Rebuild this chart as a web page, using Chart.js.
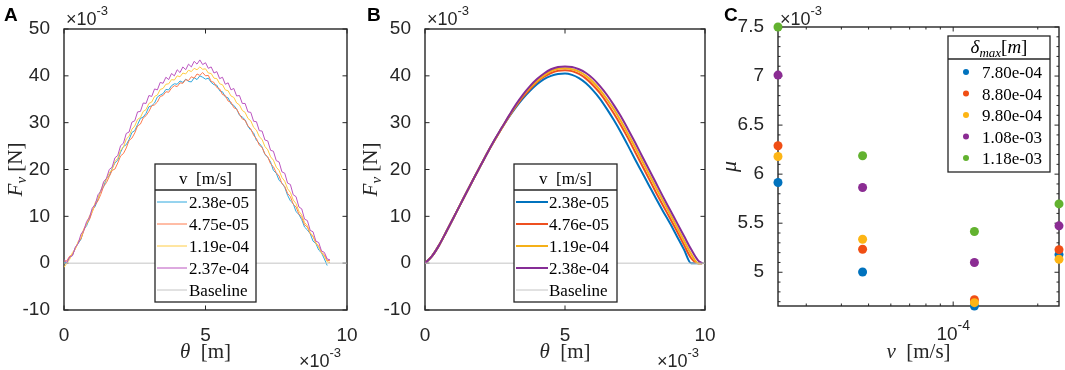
<!DOCTYPE html>
<html>
<head>
<meta charset="utf-8"/>
<title>Fv against theta, and mu against v</title>
<script src="https://cdn.jsdelivr.net/npm/chart.js@4.4.1/dist/chart.umd.min.js"></script>
<style>
  body { margin: 0; background: #fff; overflow: hidden; }
  #wrap { position: relative; width: 1065px; height: 370px; overflow: hidden; }
  canvas { position: absolute; top: 0; }
</style>
</head>
<body>
<div id="wrap">
  <canvas id="chartA" width="380" height="370" style="left:0px"></canvas>
  <canvas id="chartB" width="380" height="370" style="left:355px"></canvas>
  <canvas id="chartC" width="380" height="370" style="left:710px"></canvas>
</div>
<script>
// ---- panel A: measured force, theta and F both in units of 1e-3 ----
const thetaA = [0,0.1,0.2,0.3,0.4,0.5,0.6,0.7,0.8,0.9,
  1,1.1,1.2,1.3,1.4,1.5,1.6,1.7,1.8,1.9,
  2,2.1,2.2,2.3,2.4,2.5,2.6,2.7,2.8,2.9,
  3,3.1,3.2,3.3,3.4,3.5,3.6,3.7,3.8,3.9,
  4,4.1,4.2,4.3,4.4,4.5,4.6,4.7,4.8,4.9,
  5,5.1,5.2,5.3,5.4,5.5,5.6,5.7,5.8,5.9,
  6,6.1,6.2,6.3,6.4,6.5,6.6,6.7,6.8,6.9,
  7,7.1,7.2,7.3,7.4,7.5,7.6,7.7,7.8,7.9,
  8,8.1,8.2,8.3,8.4,8.5,8.6,8.7,8.8,8.9,
  9,9.1,9.2,9.3,9.4];
const fA1 = [0.2,0.1,1.3,1.7,3.3,4.2,5.1,7.2,8.0,9.5,
  11.4,12.1,13.7,15.6,16.3,18.1,18.6,20.2,21.4,22.0,
  23.7,24.9,25.3,26.4,27.9,28.3,29.6,30.9,31.2,32.0,
  33.4,33.6,34.2,35.5,35.9,36.2,37.1,37.0,37.9,38.3,
  38.2,38.9,38.6,39.3,38.8,38.7,39.6,39.2,40.0,39.7,
  39.3,39.5,38.6,38.1,38.0,36.8,36.6,35.5,35.3,34.0,
  33.7,32.9,31.6,31.2,30.6,29.2,28.4,27.8,26.2,25.6,
  24.8,23.2,22.6,21.6,19.8,19.2,17.7,17.1,16.2,14.5,
  13.3,12.7,11.0,10.4,9.3,7.7,7.1,6.3,4.7,4.2,
  2.8,2.2,0.9,-0.5,null];
const fA2 = [0.4,0.5,1.5,1.8,3.1,4.4,5.2,6.9,8.5,9.3,
  11.0,12.5,13.3,14.7,16.4,17.2,18.5,19.8,20.1,21.4,
  22.9,23.4,24.6,26.2,26.7,27.8,29.3,29.7,31.0,31.5,
  32.4,33.6,33.8,34.4,35.6,35.8,36.6,36.5,37.4,37.9,
  37.7,38.5,38.4,39.2,39.0,39.8,39.5,40.4,40.1,40.7,
  40.0,40.1,38.8,38.6,37.5,37.2,36.0,35.8,34.6,34.4,
  33.2,32.9,31.8,30.8,30.5,29.3,28.7,27.3,26.6,25.2,
  24.7,23.3,22.7,21.2,20.6,19.3,18.6,17.0,16.4,14.9,
  14.2,12.6,12.0,10.5,9.8,8.2,7.7,6.3,5.7,4.3,
  3.6,2.3,1.8,0.6,0.5];
const fA3 = [-0.9,0.0,0.8,2.3,3.0,4.6,5.5,7.4,8.3,10.1,
  11.0,12.9,13.8,15.5,17.1,17.8,19.3,20.0,21.7,22.4,
  24.1,24.8,26.5,27.1,28.6,29.3,30.7,31.1,32.4,32.8,
  34.1,34.4,35.6,35.9,37.1,37.3,38.2,38.3,39.2,39.1,
  40.0,39.8,40.6,40.4,41.2,40.9,41.6,41.3,41.9,41.4,
  41.5,40.6,40.5,39.5,39.4,38.3,38.1,37.0,36.8,35.7,
  35.4,34.2,33.8,32.6,32.2,30.9,30.4,29.0,28.4,27.0,
  26.4,24.9,24.2,22.7,22.0,20.5,19.8,18.3,17.5,15.9,
  15.1,13.5,12.7,11.1,10.3,8.7,8.0,6.5,5.8,4.3,
  3.5,2.2,1.5,0.3,0.1];
const fA4 = [0.8,0.1,1.3,1.6,3.4,4.2,6.2,7.0,8.9,9.8,
  11.8,12.5,14.6,15.3,17.4,18.1,20.0,20.5,22.5,23.0,
  25.1,25.6,27.7,28.0,30.1,30.4,32.3,32.4,34.2,34.1,
  35.8,35.6,37.2,37.0,38.6,38.4,39.7,39.2,40.5,40.0,
  41.3,40.7,41.9,41.3,42.5,41.9,43.1,42.5,43.4,42.4,
  42.8,41.6,41.9,40.6,40.9,39.4,39.7,38.2,38.5,37.0,
  37.3,35.7,35.8,34.1,34.1,32.3,32.2,30.3,30.2,28.3,
  28.2,26.3,26.1,24.1,23.9,21.9,21.6,19.5,19.2,17.1,
  16.8,14.6,14.2,12.0,11.6,9.4,9.1,7.0,6.7,4.7,
  4.4,2.6,2.3,0.9,0.7];
const labelsA = ['2.38e-05', '4.75e-05', '1.19e-04', '2.37e-04'];

// ---- panel B: model force ----
const thetaB = [0,0.25,0.5,0.75,1,1.25,1.5,1.75,2,2.25,
  2.5,2.75,3,3.25,3.5,3.75,4,4.25,4.5,4.75,
  5,5.25,5.5,5.75,6,6.25,6.5,6.75,7,7.25,
  7.5,7.75,8,8.25,8.5,8.75,9,9.25,9.5,9.75,9.9];
const fB1 = [0,1.5,3.8,6.6,9.5,12.4,15.3,18.2,21.0,23.8,
  26.4,28.9,31.2,33.3,35.2,36.8,38.2,39.3,40.0,40.4,
  40.5,40.2,39.5,38.4,36.9,35.1,32.9,30.5,27.9,25.1,
  22.2,19.4,16.6,13.8,11.1,8.5,5.7,2.9,0,0,0];
const fB2 = [0,1.5,3.8,6.6,9.5,12.4,15.3,18.2,21.0,23.8,
  26.4,28.9,31.3,33.5,35.5,37.2,38.7,39.8,40.6,41.1,
  41.2,41.0,40.4,39.4,38.0,36.3,34.2,31.9,29.4,26.7,
  23.8,20.9,18.0,15.1,12.3,9.6,6.8,3.9,1.1,0,0];
const fB3 = [0,1.5,3.8,6.6,9.5,12.4,15.3,18.2,21.0,23.8,
  26.4,28.9,31.4,33.7,35.8,37.5,38.9,40.1,41.0,41.5,
  41.6,41.4,40.9,40.0,38.7,37.0,35.0,32.8,30.3,27.6,
  24.8,21.9,19.0,16.1,13.3,10.5,7.7,4.8,2.0,0,0];
const fB4 = [0,1.5,3.8,6.6,9.5,12.4,15.3,18.2,21.0,23.8,
  26.5,29.0,31.5,33.9,36.0,37.8,39.3,40.5,41.4,41.9,
  42.0,41.9,41.4,40.6,39.4,37.8,35.9,33.7,31.3,28.6,
  25.8,22.9,20.0,17.1,14.2,11.4,8.6,5.8,3.0,0.6,0];
const labelsB = ['2.38e-05', '4.76e-05', '1.19e-04', '2.38e-04'];

const thetaTicks = [0, 5, 10];
const forceTicks = [-10, 0, 10, 20, 30, 40, 50];

// ---- panel C: friction coefficient (x1e-3) against speed ----
const speedC = [2.38e-5, 4.76e-5, 1.19e-4, 2.38e-4];
const mu780 = [5.915, 5.003, 4.656, 5.18];
const mu880 = [6.29, 5.235, 4.72, 5.23];
const mu980 = [6.18, 5.337, 4.69, 5.133];
const mu1080 = [7.01, 5.864, 5.10, 5.473];
const mu1180 = [7.5, 6.187, 5.415, 5.697];
const deltaLabels = ['7.80e-04', '8.80e-04', '9.80e-04', '1.08e-03', '1.18e-03'];
const muTicks = [5, 5.5, 6, 6.5, 7, 7.5];
const muMinor = [4.7,4.8,4.9,5.1,5.2,5.3,5.4,5.6,5.7,5.8,5.9,6.1,6.2,6.3,6.4,
  6.6,6.7,6.8,6.9,7.1,7.2,7.3,7.4];
const speedMinor = [3e-5,4e-5,5e-5,6e-5,7e-5,8e-5,9e-5,2e-4];

const INK = '#262626';
const SANS = '"Liberation Sans", Arial, sans-serif';
const SERIF = '"Liberation Serif", "Times New Roman", serif';
const LEG_FONT = '17px ' + SERIF;

// draws text made of several styled pieces: [text, font, dy]
function rich(ctx, parts, x, y, align) {
  let w = 0;
  for (const p of parts) { ctx.font = p[1]; w += ctx.measureText(p[0]).width; }
  let cx = align === 'center' ? x - w / 2 : align === 'right' ? x - w : x;
  for (const p of parts) {
    ctx.font = p[1];
    ctx.fillText(p[0], cx, y + (p[2] || 0));
    cx += ctx.measureText(p[0]).width;
  }
}
const exp3 = [['\u00d710', '18px ' + SANS], ['-3', '13px ' + SANS, -10]];

function makeDecor(cfg) {
  return {
    id: 'decor',
    beforeDatasetsDraw(chart) {
      const { ctx, chartArea: a } = chart;
      const { x, y } = chart.scales;
      ctx.save();
      ctx.strokeStyle = INK;
      ctx.lineWidth = 1;
      ctx.beginPath();
      const xt = (vals, len) => vals.forEach(v => {
        const p = x.getPixelForValue(v);
        ctx.moveTo(p, a.bottom); ctx.lineTo(p, a.bottom - len);
        ctx.moveTo(p, a.top); ctx.lineTo(p, a.top + len);
      });
      const yt = (vals, len) => vals.forEach(v => {
        const p = y.getPixelForValue(v);
        ctx.moveTo(a.left, p); ctx.lineTo(a.left + len, p);
        ctx.moveTo(a.right, p); ctx.lineTo(a.right - len, p);
      });
      xt(x.ticks.map(t => t.value), 4.5);
      yt(y.ticks.map(t => t.value), 4.5);
      if (cfg.minorX) xt(cfg.minorX, 2.5);
      if (cfg.minorY) yt(cfg.minorY, 2.5);
      ctx.stroke();
      ctx.lineWidth = 1.4;
      ctx.strokeRect(a.left, a.top, a.right - a.left, a.bottom - a.top);
      ctx.restore();
    },
    afterDraw(chart) {
      const { ctx, chartArea: a } = chart;
      ctx.save();
      ctx.textBaseline = 'alphabetic';
      ctx.textAlign = 'left';
      // panel letter
      ctx.fillStyle = '#000';
      ctx.font = 'bold 19px ' + SANS;
      ctx.fillText(cfg.letter, cfg.letterX, 21);
      // exponent labels
      ctx.fillStyle = INK;
      rich(ctx, exp3, a.left + 2, 25, 'left');
      if (cfg.expBottom) rich(ctx, exp3, a.right - 6, 367, 'right');
      if (cfg.logLabel) {
        const p = chart.scales.x.getPixelForValue(1e-4);
        rich(ctx, [['10', '19px ' + SANS], ['-4', '14px ' + SANS, -10]], p, 340, 'center');
      }
      // axis titles
      rich(ctx, cfg.xTitle, (a.left + a.right) / 2, 358, 'center');
      ctx.save();
      ctx.translate(cfg.yTitleX, (a.top + a.bottom) / 2);
      ctx.rotate(-Math.PI / 2);
      rich(ctx, cfg.yTitle, 0, 0, 'center');
      ctx.restore();
      // legend box with a header row
      const L = cfg.legend;
      ctx.fillStyle = '#fff';
      ctx.fillRect(L.x, L.y, L.w, L.h);
      ctx.strokeStyle = INK;
      ctx.lineWidth = 1.3;
      ctx.strokeRect(L.x, L.y, L.w, L.h);
      ctx.beginPath();
      ctx.moveTo(L.x, L.sep); ctx.lineTo(L.x + L.w, L.sep);
      ctx.stroke();
      ctx.fillStyle = '#000';
      rich(ctx, L.head, L.x + L.w / 2, L.headY, 'center');
      chart.data.datasets.forEach((ds, i) => {
        const cy = L.row0 + i * L.step;
        if (L.dots) {
          ctx.fillStyle = ds.backgroundColor;
          ctx.beginPath();
          ctx.arc(L.s0, cy, 3, 0, 2 * Math.PI);
          ctx.fill();
        } else {
          ctx.strokeStyle = ds.borderColor;
          ctx.lineWidth = ds.borderWidth;
          ctx.beginPath();
          ctx.moveTo(L.s0, cy); ctx.lineTo(L.s1, cy);
          ctx.stroke();
        }
        ctx.fillStyle = '#000';
        ctx.font = LEG_FONT;
        ctx.fillText(ds.label, L.tx, cy + 6);
      });
      ctx.restore();
    }
  };
}

const fixY = w => s => { s.width = w; s.paddingTop = 0; s.paddingBottom = 0; };
const fixX = h => s => { s.height = h; s.paddingLeft = 0; s.paddingRight = 0; };
const tickFont = { family: SANS, size: 19 };

function lineSet(label, xs, ys, color, width, smooth) {
  return {
    label: label,
    data: xs.map((x, i) => ({ x: x, y: ys[i] })),
    borderColor: color,
    backgroundColor: color,
    borderWidth: width,
    pointRadius: 0,
    tension: 0,
    cubicInterpolationMode: smooth ? 'monotone' : 'default'
  };
}

function forceChart(id, xs, series, labels, colors, width, smooth, padLeft, padRight, decor) {
  const sets = series.map((ys, i) => lineSet(labels[i], xs, ys, colors[i], width, smooth));
  sets.push(lineSet('Baseline', [0, 10], [0, 0], '#c4c4c4', 1, false));
  sets.forEach((s, i) => { s.order = sets.length - i; });
  return new Chart(document.getElementById(id), {
    type: 'line',
    data: { datasets: sets },
    options: {
      responsive: false,
      animation: false,
      devicePixelRatio: 1,
      layout: { padding: { left: 0, right: padRight, top: 29, bottom: 0 } },
      plugins: { legend: { display: false }, tooltip: { enabled: false } },
      scales: {
        x: {
          type: 'linear', min: 0, max: 10,
          afterBuildTicks: s => { s.ticks = thetaTicks.map(v => ({ value: v })); },
          afterFit: fixX(60),
          grid: { display: false }, border: { display: false },
          ticks: { font: tickFont, color: INK, padding: 6, maxRotation: 0, callback: v => String(v) }
        },
        y: {
          type: 'linear', min: -10, max: 50,
          afterBuildTicks: s => { s.ticks = forceTicks.map(v => ({ value: v })); },
          afterFit: fixY(padLeft),
          grid: { display: false }, border: { display: false },
          ticks: { font: tickFont, color: INK, padding: 6, callback: v => String(v) }
        }
      }
    },
    plugins: [makeDecor(decor)]
  });
}

const yTitleF = [['F', 'italic 21px ' + SERIF], ['v', 'italic 15px ' + SERIF, 4], [' [N]', '21px ' + SERIF]];
const xTitleT = [['\u03b8', 'italic 21px ' + SERIF], ['  [m]', '21px ' + SERIF]];
const headV = [['v  [m/s]', LEG_FONT]];

forceChart('chartA', thetaA, [fA1, fA2, fA3, fA4], labelsA,
  ['#2fa8de', '#ff7a4d', '#ffcc44', '#bb55c0'], 1, false, 64, 33, {
    letter: 'A', letterX: 4, expBottom: true, yTitleX: 22,
    yTitle: yTitleF, xTitle: xTitleT,
    legend: { x: 155, y: 164, w: 101, h: 138, sep: 190, headY: 184, head: headV,
      row0: 202, step: 22, s0: 157, s1: 187, tx: 189 }
  });

forceChart('chartB', thetaB, [fB1, fB2, fB3, fB4], labelsB,
  ['#0072bd', '#ee5020', '#f5b018', '#862d96'], 2, true, 70, 30, {
    letter: 'B', letterX: 12, expBottom: true, yTitleX: 22,
    yTitle: yTitleF, xTitle: xTitleT,
    legend: { x: 159, y: 164, w: 103, h: 138, sep: 190, headY: 184, head: headV,
      row0: 202, step: 22, s0: 161, s1: 193, tx: 194 }
  });

const colorsC = ['#0072bd', '#f04e14', '#fdb515', '#8b2c93', '#62b22f'];
const setsC = [mu780, mu880, mu980, mu1080, mu1180].map((ys, i) => ({
  label: deltaLabels[i],
  data: speedC.map((v, j) => ({ x: v, y: ys[j] })),
  backgroundColor: colorsC[i],
  borderWidth: 0,
  pointRadius: 4.5,
  clip: false,
  order: 5 - i
}));

new Chart(document.getElementById('chartC'), {
  type: 'scatter',
  data: { datasets: setsC },
  options: {
    responsive: false,
    animation: false,
    devicePixelRatio: 1,
    layout: { padding: { left: 0, right: 31, top: 27, bottom: 0 } },
    plugins: { legend: { display: false }, tooltip: { enabled: false } },
    scales: {
      x: {
        type: 'logarithmic', min: 2.38e-5, max: 2.38e-4,
        afterBuildTicks: s => { s.ticks = [{ value: 1e-4 }]; },
        afterFit: fixX(64),
        grid: { display: false }, border: { display: false },
        ticks: { display: false }
      },
      y: {
        type: 'linear', min: 4.656, max: 7.5,
        afterBuildTicks: s => { s.ticks = muTicks.map(v => ({ value: v })); },
        afterFit: fixY(68),
        grid: { display: false }, border: { display: false },
        ticks: { font: tickFont, color: INK, padding: 6, callback: v => String(v) }
      }
    }
  },
  plugins: [makeDecor({
    letter: 'C', letterX: 14, expBottom: false, logLabel: true, yTitleX: 26,
    minorX: speedMinor, minorY: muMinor,
    yTitle: [['\u03bc', 'italic 22px ' + SERIF]],
    xTitle: [['v', 'italic 21px ' + SERIF], ['  [m/s]', '21px ' + SERIF]],
    legend: { x: 238, y: 36, w: 102, h: 136, sep: 59, headY: 53, dots: true,
      head: [['\u03b4', 'italic 19px ' + SERIF], ['max', 'italic 13px ' + SERIF, 4],
        ['[', '19px ' + SERIF], ['m', 'italic 19px ' + SERIF], [']', '19px ' + SERIF]],
      row0: 72, step: 21.5, s0: 256, tx: 272 }
  })]
});
</script>
</body>
</html>
